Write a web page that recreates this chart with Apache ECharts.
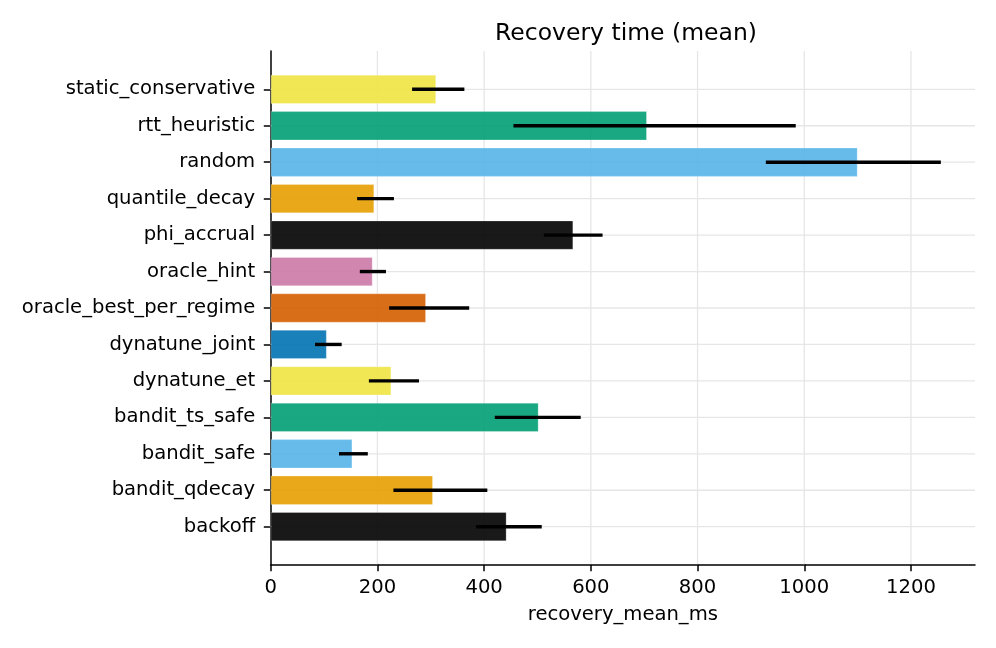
<!DOCTYPE html>
<html>
<head>
<meta charset="utf-8">
<script src="https://cdn.jsdelivr.net/npm/echarts@6/dist/echarts.min.js"></script>
<style>
html,body{margin:0;padding:0;background:#fff;}
#c{width:996px;height:648px;}
</style>
</head>
<body>
<div id="c"></div>
<script>
const categories = ['backoff','bandit_qdecay','bandit_safe','bandit_ts_safe','dynatune_et','dynatune_joint','oracle_best_per_regime','oracle_hint','phi_accrual','quantile_decay','random','rtt_heuristic','static_conservative'];
const meanMs = [442, 304, 153, 502, 226, 105, 291, 191, 567, 194, 1100, 705, 310];
const ciLow  = [385, 230, 128, 420, 184, 83, 222, 167, 512, 162, 928, 455, 265];
const ciHigh = [508, 406, 182, 581, 278, 133, 372, 216, 622, 231, 1256, 984, 363];
const xTicks = [0, 200, 400, 600, 800, 1000, 1200];
const palette = ['#000000','#E69F00','#56B4E9','#009E73','#F0E442','#0072B2','#D55E00','#CC79A7'];
const xMin = 0, xMax = 1320;

const FONT = 'DejaVu Sans';
const FS = 19.6;
const L = 270.7, R = 21;
const chart = echarts.init(document.getElementById('c'), null, {renderer:'canvas'});

const option = {
  backgroundColor: '#fff',
  animation: false,
  title: {
    text: 'Recovery time (mean)',
    left: 621, top: 17, textAlign: 'center',
    textStyle: {fontFamily: FONT, fontSize: 23.5, fontWeight: 'normal', color: '#000'}
  },
  grid: [
    {left: L, right: R, top: 51.1, bottom: 83.7, containLabel: false, outerBoundsMode: 'none'},
    {left: L, right: R, top: 71.1, bottom: 103.1, containLabel: false, outerBoundsMode: 'none'}
  ],
  xAxis: [
    {
      gridIndex: 0, type: 'value', min: xMin, max: xMax,
      axisLine: {show: true, lineStyle: {color: '#000', width: 1.5}},
      axisTick: {show: true, length: 6.9, customValues: xTicks, lineStyle: {color: '#000', width: 1.5}},
      axisLabel: {show: true, margin: 13.5, customValues: xTicks, formatter: v => String(v),
                  fontFamily: FONT, fontSize: FS, color: '#000'},
      splitLine: {show: false},
      name: 'recovery_mean_ms', nameLocation: 'middle', nameGap: 41,
      nameTextStyle: {fontFamily: FONT, fontSize: FS, color: '#000'}
    },
    {
      gridIndex: 1, type: 'value', min: xMin, max: xMax, show: false
    }
  ],
  yAxis: [
    {
      gridIndex: 0, type: 'value', min: 0, max: 1,
      axisLine: {show: true, lineStyle: {color: '#000', width: 1.5}},
      axisTick: {show: false}, axisLabel: {show: false}, splitLine: {show: false}
    },
    {
      gridIndex: 1, type: 'category', data: categories,
      axisLine: {show: false},
      axisTick: {show: true, alignWithLabel: true, length: 6.9, lineStyle: {color: '#000', width: 1.5}},
      axisLabel: {show: true, margin: 15.5, padding: [4, 0, 0, 0], fontFamily: FONT, fontSize: FS, color: '#000'},
      splitLine: {show: false}
    }
  ],
  series: [
    {
      type: 'custom', xAxisIndex: 0, yAxisIndex: 0, z: 1, silent: true,
      data: xTicks.slice(1).map(v => [v]),
      encode: {x: 0},
      renderItem: function (params, api) {
        const v = api.value(0);
        const p0 = api.coord([v, 0]);
        const p1 = api.coord([v, 1]);
        return {type: 'line', shape: {x1: p0[0], y1: p0[1], x2: p1[0], y2: p1[1]},
                style: {stroke: '#e6e6e6', lineWidth: 1.3}};
      }
    },
    {
      type: 'custom', xAxisIndex: 1, yAxisIndex: 1, z: 1, silent: true,
      data: categories.map((c, i) => [i]),
      encode: {y: 0},
      renderItem: function (params, api) {
        const i = api.value(0);
        const p0 = api.coord([xMin, i]);
        const p1 = api.coord([xMax, i]);
        return {type: 'line', shape: {x1: p0[0], y1: p0[1], x2: p1[0], y2: p1[1]},
                style: {stroke: '#e6e6e6', lineWidth: 1.3}};
      }
    },
    {
      type: 'bar', xAxisIndex: 1, yAxisIndex: 1, z: 2, barWidth: '80%',
      data: meanMs.map((v, i) => ({value: v, itemStyle: {color: palette[i % palette.length]}})),
      itemStyle: {opacity: 0.9, borderColor: 'rgba(255,255,255,0.35)', borderWidth: 0.8}
    },
    {
      type: 'custom', xAxisIndex: 1, yAxisIndex: 1, z: 3, silent: true,
      data: categories.map((c, i) => [ciLow[i], ciHigh[i], i]),
      encode: {x: [0, 1], y: 2},
      renderItem: function (params, api) {
        const i = api.value(2);
        const a = api.coord([api.value(0), i]);
        const b = api.coord([api.value(1), i]);
        return {type: 'line', shape: {x1: a[0], y1: a[1], x2: b[0], y2: b[1]},
                style: {stroke: '#000', lineWidth: 3.4}};
      }
    }
  ]
};
chart.setOption(option);
</script>
</body>
</html>
